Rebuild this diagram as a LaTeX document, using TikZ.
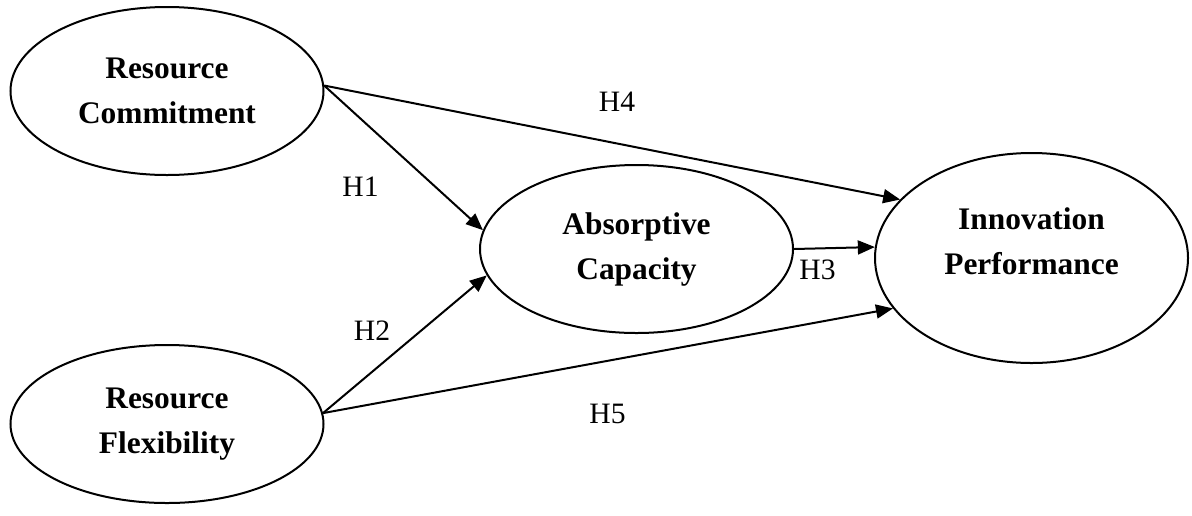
\documentclass[tikz,border=0pt]{standalone}
\usepackage{fontspec}
\setmainfont{Liberation Serif}
\usepackage{tikz}
\usetikzlibrary{shapes.geometric, arrows.meta}
\tikzstyle{construct} = [ellipse, draw=black, line width=1pt, minimum width=156.5pt, minimum height=84pt, inner sep=0pt, align=center, font=\fontsize{15.7}{22.5}\selectfont\bfseries]
\tikzstyle{arrow} = [line width=1pt, -{Triangle[length=8.5pt,width=7pt]}]
\tikzstyle{hyp} = [inner sep=0pt, font=\fontsize{14.8}{17}\selectfont]

\begin{document}
\begin{tikzpicture}[x=0.5pt, y=-0.5pt]
  \useasboundingbox (0,0) rectangle (1192,515);

  \node[construct] (rc) at (167,91) {Resource\\Commitment};
  \node[construct, minimum height=79pt] (rf) at (167,424) {Resource\\Flexibility};
  \node[construct] (ac) at (636.5,249) {Absorptive\\Capacity};
  \node[construct, minimum height=105pt] (ip) at (1031.5,258) {};
  \node[font=\fontsize{15.7}{22.5}\selectfont\bfseries, align=center] (iptext) at (1031.5,241) {Innovation\\Performance};

  \draw[arrow] (rc.2) -- (ac.173.7);
  \draw[arrow] (rc.2) -- (ip.156.5);
  \draw[arrow] (rf.4) -- (ac.190.7);
  \draw[arrow] (rf.4) -- (ip.200.5);
  \draw[arrow] (ac.east) -- (ip.176.8);

  \node[hyp] (h1) at (360.5,187) {H1};
  \node[hyp] (h2) at (372,331) {H2};
  \node[hyp] (h3) at (817.5,270) {H3};
  \node[hyp] (h4) at (617,102) {H4};
  \node[hyp] (h5) at (607.5,413.5) {H5};
\end{tikzpicture}
\end{document}
